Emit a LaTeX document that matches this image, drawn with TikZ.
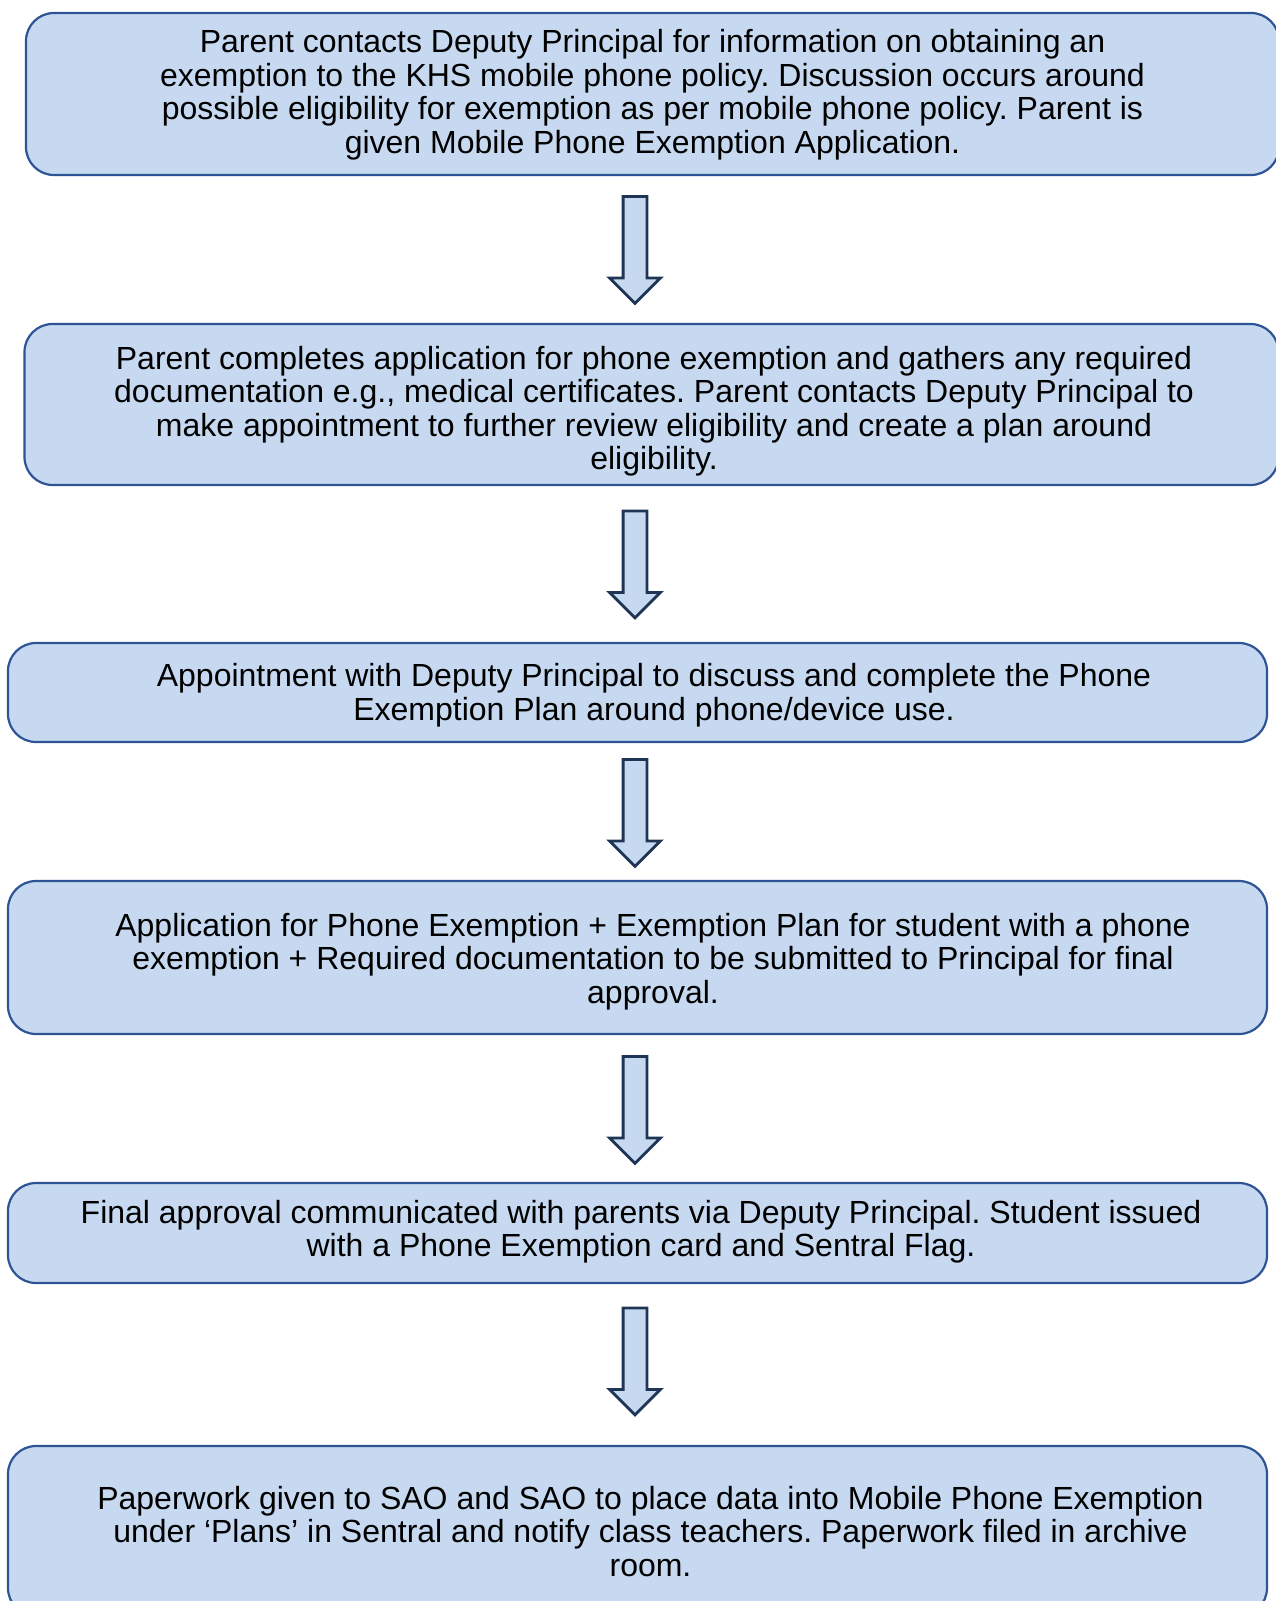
\documentclass[tikz,border=0pt]{standalone}
\usepackage{fontspec}
\setmainfont{Liberation Sans}
\usetikzlibrary{shapes.arrows}
\definecolor{boxfill}{HTML}{C6D9F0}
\definecolor{boxline}{HTML}{2F5496}
\definecolor{arrowline}{HTML}{1F3556}
\frenchspacing
\begin{document}
\begin{tikzpicture}[x=1pt,y=-1pt,
        stepbox/.style={draw=boxline,fill=boxfill,line width=2.2pt,rounded corners=28pt,inner sep=0pt},
        steptext/.style={align=center,font=\fontsize{32}{33.5}\selectfont,inner sep=0pt},
        blockarrow/.style={single arrow,draw=arrowline,fill=boxfill,line width=2.8pt,rotate=-90,
            minimum height=107pt,inner xsep=0pt,inner ysep=10.5pt,
            single arrow head extend=13.5pt,single arrow tip angle=90,single arrow head indent=0pt}]
            \useasboundingbox (0,0) rectangle (1275,1601);

            % boxes
            \node[stepbox,minimum width=1253pt,minimum height=162pt] (b1) at (652.5,94) {};
            \node[stepbox,minimum width=1254pt,minimum height=161pt] (b2) at (651.5,404.5) {};
            \node[stepbox,minimum width=1259pt,minimum height=99pt] (b3) at (637.5,692.5) {};
            \node[stepbox,minimum width=1259pt,minimum height=153pt] (b4) at (637.5,957.5) {};
            \node[stepbox,minimum width=1259pt,minimum height=100pt] (b5) at (637.5,1233) {};
            \node[stepbox,minimum width=1259pt,minimum height=170pt] (b6) at (637.5,1531) {};

            % arrows between the boxes
            \foreach \y [count=\i] in {244,558.5,807,1104,1355.5}
            {
                \node[blockarrow] (a\i) at (635,\y) {};
            }

            % texts
            \node[steptext] (t1) at (652.5,94.5) {Parent contacts Deputy Principal for information on obtaining an\\
                exemption to the KHS mobile phone policy. Discussion occurs around\\
                possible eligibility for exemption as per mobile phone policy. Parent is\\
                given Mobile Phone Exemption Application.};
            \node[steptext] (t2) at (654,411) {Parent completes application for phone exemption and gathers any required\\
                documentation e.g., medical certificates. Parent contacts Deputy Principal to\\
                make appointment to further review eligibility and create a plan around\\
                eligibility.};
            \node[steptext] (t3) at (654,695) {Appointment with Deputy Principal to discuss and complete the Phone\\
                Exemption Plan around phone/device use.};
            \node[steptext] (t4) at (653,961.5) {Application for Phone Exemption + Exemption Plan for student with a phone\\
                exemption + Required documentation to be submitted to Principal for final\\
                approval.};
            \node[steptext] (t5) at (641,1231.5) {Final approval communicated with parents via Deputy Principal. Student issued\\
                with a Phone Exemption card and Sentral Flag.};
            \node[steptext] (t6) at (650.5,1531.5) {Paperwork given to SAO and SAO to place data into Mobile Phone Exemption\\
                under ‘Plans’ in Sentral and notify class teachers. Paperwork filed in archive\\
                room.};
        \end{tikzpicture}
\end{document}
